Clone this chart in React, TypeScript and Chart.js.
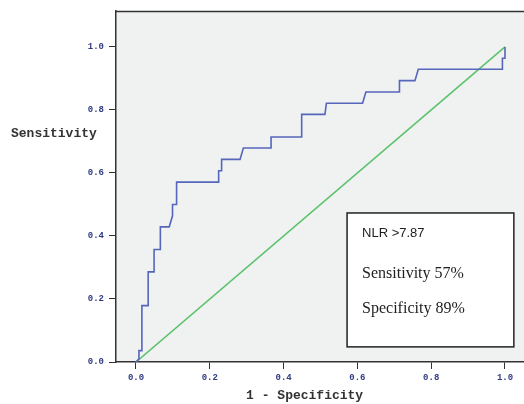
import React, { useEffect, useRef } from "react";
import { Chart, registerables } from "chart.js";

Chart.register(...registerables);

// ROC curve (1 - specificity, sensitivity)
const rocFpr = [0, 0.008, 0.008, 0.016, 0.016, 0.033, 0.033, 0.049, 0.049, 0.066, 0.066, 0.090, 0.099, 0.099, 0.110, 0.110, 0.224, 0.224, 0.232, 0.232, 0.282, 0.291, 0.366, 0.366, 0.449, 0.449, 0.512, 0.516, 0.614, 0.623, 0.714, 0.714, 0.756, 0.765, 0.993, 0.993, 1.0, 1.0];
const rocTpr = [0, 0.01, 0.036, 0.036, 0.179, 0.179, 0.286, 0.286, 0.357, 0.357, 0.429, 0.429, 0.464, 0.5, 0.5, 0.571, 0.571, 0.607, 0.607, 0.643, 0.643, 0.679, 0.679, 0.714, 0.714, 0.786, 0.786, 0.821, 0.821, 0.857, 0.857, 0.893, 0.893, 0.929, 0.929, 0.964, 0.964, 1.0];
// reference line
const refX = [0, 1];
const refY = [0, 1];
// ticks
const tickValues = [0, 0.2, 0.4, 0.6, 0.8, 1.0];
const tickLabels = ["0.0", "0.2", "0.4", "0.6", "0.8", "1.0"];
// texts
const xTitle = "1 - Specificity";
const yTitle = "Sensitivity";
const boxLines = ["NLR >7.87", "Sensitivity 57%", "Specificity 89%"];

const BG = "#f0f2f2";

export default function App() {
  const ref = useRef<HTMLCanvasElement | null>(null);
  useEffect(() => {
    if (!ref.current) return;
    const decor = {
      id: "decor",
      beforeDraw(chart: any) {
        const { ctx, chartArea: a } = chart;
        ctx.save();
        ctx.fillStyle = "#ffffff";
        ctx.fillRect(0, 0, chart.width, chart.height);
        ctx.fillStyle = BG;
        ctx.fillRect(a.left, a.top, a.right - a.left, a.bottom - a.top);
        ctx.restore();
      },
      afterDraw(chart: any) {
        const { ctx, chartArea: a } = chart;
        const xs = chart.scales.x;
        const ys = chart.scales.y;
        ctx.save();
        // top border
        ctx.strokeStyle = "#333333";
        ctx.lineWidth = 1.5;
        ctx.beginPath();
        ctx.moveTo(a.left, a.top + 0.5);
        ctx.lineTo(a.right, a.top + 0.5);
        ctx.stroke();
        // annotation box
        const bl = xs.getPixelForValue(0.572);
        const br = xs.getPixelForValue(1.024);
        const bt = ys.getPixelForValue(0.473);
        const bb = ys.getPixelForValue(0.048);
        ctx.fillStyle = "#ffffff";
        ctx.fillRect(bl, bt, br - bl, bb - bt);
        ctx.strokeStyle = "#222222";
        ctx.lineWidth = 1.5;
        ctx.strokeRect(bl, bt, br - bl, bb - bt);
        ctx.fillStyle = "#1e1e1e";
        ctx.textBaseline = "middle";
        ctx.textAlign = "left";
        ctx.font = "13px 'Liberation Sans'";
        ctx.fillText(boxLines[0], bl + 15, bt + 20);
        ctx.font = "16px 'Liberation Serif'";
        ctx.fillText(boxLines[1], bl + 15, bt + 61);
        ctx.fillText(boxLines[2], bl + 15, bt + 96);
        // axis titles
        ctx.fillStyle = "#333333";
        ctx.font = "bold 13px 'Liberation Mono'";
        ctx.textAlign = "center";
        ctx.fillText(xTitle, xs.getPixelForValue(0.457), 396);
        ctx.textAlign = "left";
        ctx.fillText(yTitle, 11, ys.getPixelForValue(0.726));
        ctx.restore();
      },
    };
    const tickFont = { family: "'Liberation Mono'", size: 9, weight: "bold" as const };
    const chart = new Chart(ref.current, {
      type: "scatter",
      data: {
        datasets: [
          {
            data: rocFpr.map((x, i) => ({ x, y: rocTpr[i] })),
            showLine: true,
            borderColor: "#5566bb",
            borderWidth: 1.6,
            pointRadius: 0,
            fill: false,
            tension: 0,
          },
          {
            data: refX.map((x, i) => ({ x, y: refY[i] })),
            showLine: true,
            borderColor: "#5cc26c",
            borderWidth: 1.6,
            pointRadius: 0,
            fill: false,
          },
        ],
      },
      options: {
        animation: false,
        responsive: false,
        maintainAspectRatio: false,
        layout: { padding: { left: 0, right: 0, top: 11, bottom: 0 } },
        plugins: { legend: { display: false }, tooltip: { enabled: false } },
        scales: {
          x: {
            type: "linear",
            min: -0.0542,
            max: 1.0515,
            afterBuildTicks: (s: any) => {
              s.ticks = tickValues.map((v) => ({ value: v }));
            },
            afterFit: (s: any) => {
              s.height = 42;
            },
            ticks: {
              callback: (v: any) => {
                const i = tickValues.findIndex((t) => Math.abs(t - v) < 1e-6);
                return i >= 0 ? tickLabels[i] : "";
              },
              color: "#2f3b80",
              font: tickFont,
              padding: 3,
              maxRotation: 0,
              autoSkip: false,
            },
            grid: { drawOnChartArea: false, drawTicks: true, tickLength: 7, color: "#333333" },
            border: { display: true, color: "#333333", width: 1.5 },
          },
          y: {
            type: "linear",
            min: 0,
            max: 1.114,
            afterBuildTicks: (s: any) => {
              s.ticks = tickValues.map((v) => ({ value: v }));
            },
            afterFit: (s: any) => {
              s.width = 116;
            },
            ticks: {
              callback: (v: any) => {
                const i = tickValues.findIndex((t) => Math.abs(t - v) < 1e-6);
                return i >= 0 ? tickLabels[i] : "";
              },
              color: "#2f3b80",
              font: tickFont,
              padding: 5,
              autoSkip: false,
            },
            grid: { drawOnChartArea: false, drawTicks: true, tickLength: 7, color: "#333333" },
            border: { display: true, color: "#333333", width: 1.5 },
          },
        },
      },
      plugins: [decor],
    });
    return () => chart.destroy();
  }, []);
  return (
    <div style={{ position: "fixed", left: 0, top: 0, width: 524, height: 404, background: "#fff" }}>
      <canvas ref={ref} width={524} height={404} style={{ width: 524, height: 404, display: "block" }} />
    </div>
  );
}
